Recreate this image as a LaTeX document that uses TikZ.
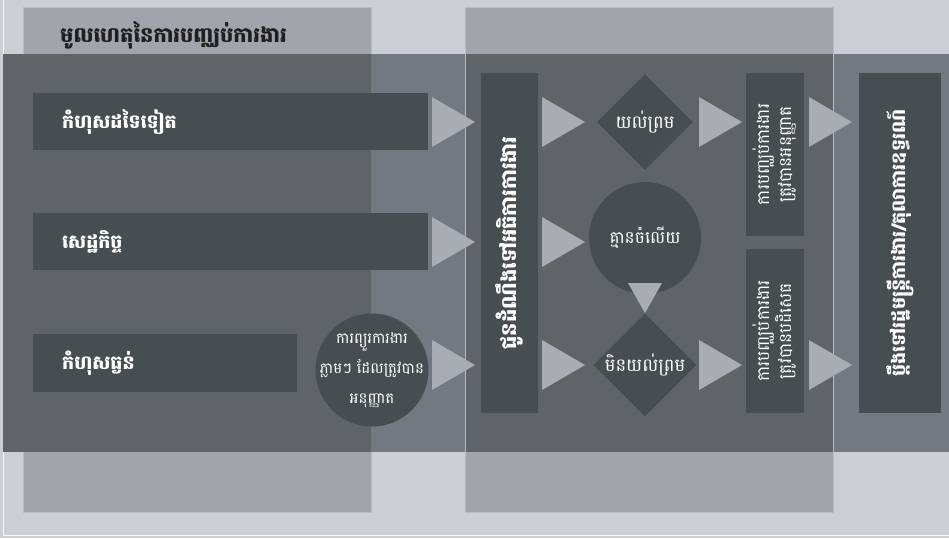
\documentclass[tikz,border=0pt]{standalone}
\usepackage{fontspec}
\newfontfamily\khmer[Script=Khmer]{Battambang}
\usetikzlibrary{shapes.geometric}

\definecolor{pagebg}{HTML}{CBCED5}
\definecolor{colbg}{HTML}{A0A5AC}
\definecolor{colline}{HTML}{B9BDC3}
\definecolor{bandbg}{HTML}{737980}
\definecolor{banddark}{HTML}{5F6567}
\definecolor{boxbg}{HTML}{474E51}
\definecolor{tribg}{HTML}{A8ACB3}

\tikzset{
    arrowtri/.pic={\fill[tribg] (0,-25) -- (43,0) -- (0,25) -- cycle;},
    downtri/.pic={\fill[tribg] (-17,0) -- (17,0) -- (0,30) -- cycle;}
}

\begin{document}
\begin{tikzpicture}[x=1pt,y=-1pt,
        font=\khmer,inner sep=0pt,
        every node/.style={text=white},
        cause/.style={fill=boxbg,anchor=north west,minimum height=57pt,inner xsep=29pt,
            align=left,font=\khmer\bfseries\fontsize{19}{22}\selectfont},
        round/.style={fill=boxbg,circle,align=center,font=\khmer\fontsize{15}{30}\selectfont},
        choice/.style={fill=boxbg,diamond,minimum size=96pt,aspect=1,font=\khmer\fontsize{18}{20}\selectfont},
        decision/.style={fill=boxbg,minimum height=58pt,rotate=90,align=center,
            font=\khmer\fontsize{17}{22}\selectfont}]

    \useasboundingbox (0,0) rectangle (949,538);

    % background, columns and band
    \fill[pagebg] (0,0) rectangle (949,538);
    \draw[white!85!pagebg,line width=1pt] (3,0) -- (3,535) -- (949,535);
    \fill[colbg,draw=colline,line width=0.6pt] (23,7) rectangle (371,512);
    \fill[colbg,draw=colline,line width=0.6pt] (465,7) rectangle (833,512);
    \fill[bandbg] (3,54) rectangle (949,452);
    \fill[banddark] (3,54) rectangle (371,452);
    \fill[banddark] (465,54) rectangle (833,452);
    \draw[colline,line width=0.6pt] (465,54) -- (465,452) (833,54) -- (833,452);

    \node[anchor=west,text=black!88,font=\khmer\bfseries\fontsize{21}{24}\selectfont]
        (title) at (60,35) {មូលហេតុនៃការបញ្ឈប់ការងារ};

    % causes
    \node[cause,text width=337pt] (other) at (33,93) {កំហុសដទៃទៀត};
    \node[cause,text width=337pt] (econ) at (33,213) {សេដ្ឋកិច្ច};
    \node[cause,text width=206pt,minimum height=58pt] (serious) at (33,334) {កំហុសធ្ងន់};
    \node[round,minimum size=113pt,inner sep=-12pt] (suspend) at (372,370)
        {ការព្យួរការងារ\\ភ្លាមៗ ដែលត្រូវបាន\\អនុញ្ញាត};

    % inspector
    \node[fill=boxbg,minimum width=340pt,minimum height=57pt,rotate=90,
        font=\khmer\bfseries\fontsize{21}{24}\selectfont] (notify) at (509,243)
        {ជូនដំណឹងទៅអធិការការងារ};

    % answers
    \node[choice] (agree) at (645,122) {យល់ព្រម};
    \node[round,minimum size=112pt,font=\khmer\fontsize{17}{20}\selectfont] (noreply) at (645,238) {គ្មានចំលើយ};
    \node[choice] (disagree) at (645,365) {មិនយល់ព្រម};

    % decisions
    \node[decision,minimum width=163pt] (allowed) at (775,154.5)
        {ការបញ្ឈប់ការងារ\\ត្រូវបានអនុញ្ញាត};
    \node[decision,minimum width=164pt] (refused) at (775,331)
        {ការបញ្ឈប់ការងារ\\ត្រូវបានបដិសេធ};

    \node[fill=boxbg,minimum width=340pt,minimum height=82pt,rotate=90,
        font=\khmer\bfseries\fontsize{19}{22}\selectfont] (appeal) at (900,243)
        {ប្ដឹងទៅរដ្ឋមន្ត្រីការងារ/តុលាការឧទ្ធរណ៍};

    % arrows
    \pic at (432,122) {arrowtri};
    \pic at (432,242) {arrowtri};
    \pic at (432,365) {arrowtri};
    \pic at (542,122) {arrowtri};
    \pic at (542,242) {arrowtri};
    \pic at (542,365) {arrowtri};
    \pic at (699,122) {arrowtri};
    \pic at (699,365) {arrowtri};
    \pic at (809,122) {arrowtri};
    \pic at (809,365) {arrowtri};
    \pic at (645,283) {downtri};
\end{tikzpicture}
\end{document}
